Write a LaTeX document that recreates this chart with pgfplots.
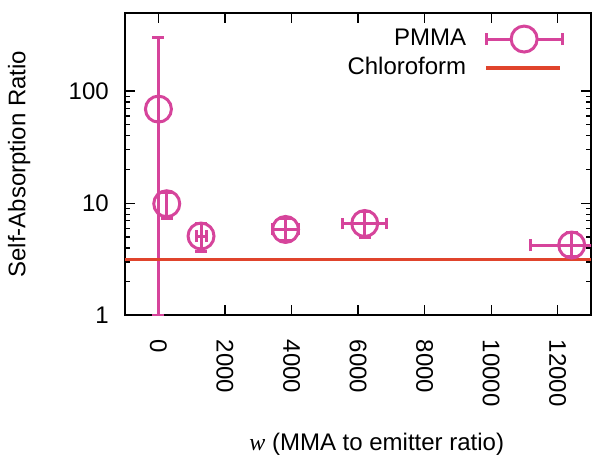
\documentclass[border=0pt,12pt]{standalone}
\usepackage{fontspec}
\setmainfont{Liberation Sans}
\newfontfamily\seriffont{Liberation Serif}
\usepackage{pgfplots}
\pgfplotsset{compat=1.18}
\usepackage{pgfplotstable}
\definecolor{pmma}{RGB}{214,68,155}
\definecolor{chl}{RGB}{224,68,44}
\pgfplotstableread{
x y eyp eym
0 69 231 68
250 9.9 2.6 2.6
}\pmmaA
\pgfplotstableread{
x y ex eyp eym
1280 5.1 150 1.5 1.4
3820 5.84 400 1.5 1.2
6200 6.6 660 1.9 1.6
12420 4.24 1250 1.2 0.9
}\pmmaB
\begin{document}
\begin{tikzpicture}
\begin{axis}[
  name=main,
  scale only axis,
  width=233pt, height=151.5pt,
  ymode=log,
  xmin=-1000, xmax=13000,
  ymin=1, ymax=500,
  scaled x ticks=false,
  xtick={0,2000,4000,6000,8000,10000,12000},
  xticklabels={0,2000,4000,6000,8000,10000,12000},
  ytick={1,10,100},
  yticklabels={1,10,100},
  xticklabel style={rotate=-90, anchor=west},
  xticklabel shift=8pt,
  yticklabel shift=4pt,
  axis line style={line width=1pt},
  major tick length=5pt,
  minor tick length=2.5pt,
  every tick/.style={black, line width=0.6pt},
  xlabel={{\seriffont\itshape w} (MMA to emitter ratio)},
  ylabel={Self-Absorption Ratio},
  xlabel style={at={(ticklabel cs:0.54)}, anchor=near ticklabel, yshift=-5pt},
  ylabel style={at={(ticklabel cs:0.5)}, anchor=near ticklabel, yshift=11pt},
  clip=true,
  legend style={draw=none, fill=none, at={(0.955,0.975)}, anchor=north east,
    legend cell align=right, row sep=0pt, font=\fontsize{12}{13}\selectfont},
  legend plot pos=right,
]
\addplot[pmma, line width=1.5pt, only marks, mark=o, mark size=6.5pt,
  mark options={line width=1.5pt, draw=pmma, fill=none},
  legend image code/.code={
    \path[draw=none, fill=none] (0pt,0pt) -- (1pt,0pt);
    \draw[pmma, line width=1.5pt] (8pt,0pt) -- (46pt,0pt);
    \draw[pmma, line width=1.5pt] (8pt,-3pt) -- (8pt,3pt);
    \draw[pmma, line width=1.5pt] (46pt,-3pt) -- (46pt,3pt);
    \draw[pmma, line width=1.5pt, fill=white] (27pt,0pt) circle (6.5pt);
  },
  error bars/.cd, x dir=both, y dir=both, x explicit, y explicit,
  error bar style={line width=1.5pt, pmma},
  error mark options={rotate=90, mark size=3pt, line width=1.5pt, pmma}]
  table[x=x, y=y, x error=ex, y error plus=eyp, y error minus=eym] {\pmmaB};
\addlegendentry{PMMA}
\addplot[pmma, line width=1.5pt, only marks, mark=o, mark size=6.5pt, forget plot,
  mark options={line width=1.5pt, draw=pmma, fill=none},
  error bars/.cd, y dir=both, y explicit,
  error bar style={line width=1.5pt, pmma},
  error mark options={rotate=90, mark size=3pt, line width=1.5pt, pmma}]
  table[x=x, y=y, y error plus=eyp, y error minus=eym] {\pmmaA};
\addplot[chl, line width=1.6pt, no marks,
  legend image code/.code={\path[draw=none, fill=none] (0pt,0pt) -- (1pt,0pt); \draw[chl, line width=1.6pt] (8pt,0pt) -- (45pt,0pt);}]
  coordinates {(-1000,3.16) (13000,3.16)};
\addlegendentry{Chloroform}
\end{axis}
\path (main.north) ++(0,6.3pt);
\end{tikzpicture}
\end{document}
